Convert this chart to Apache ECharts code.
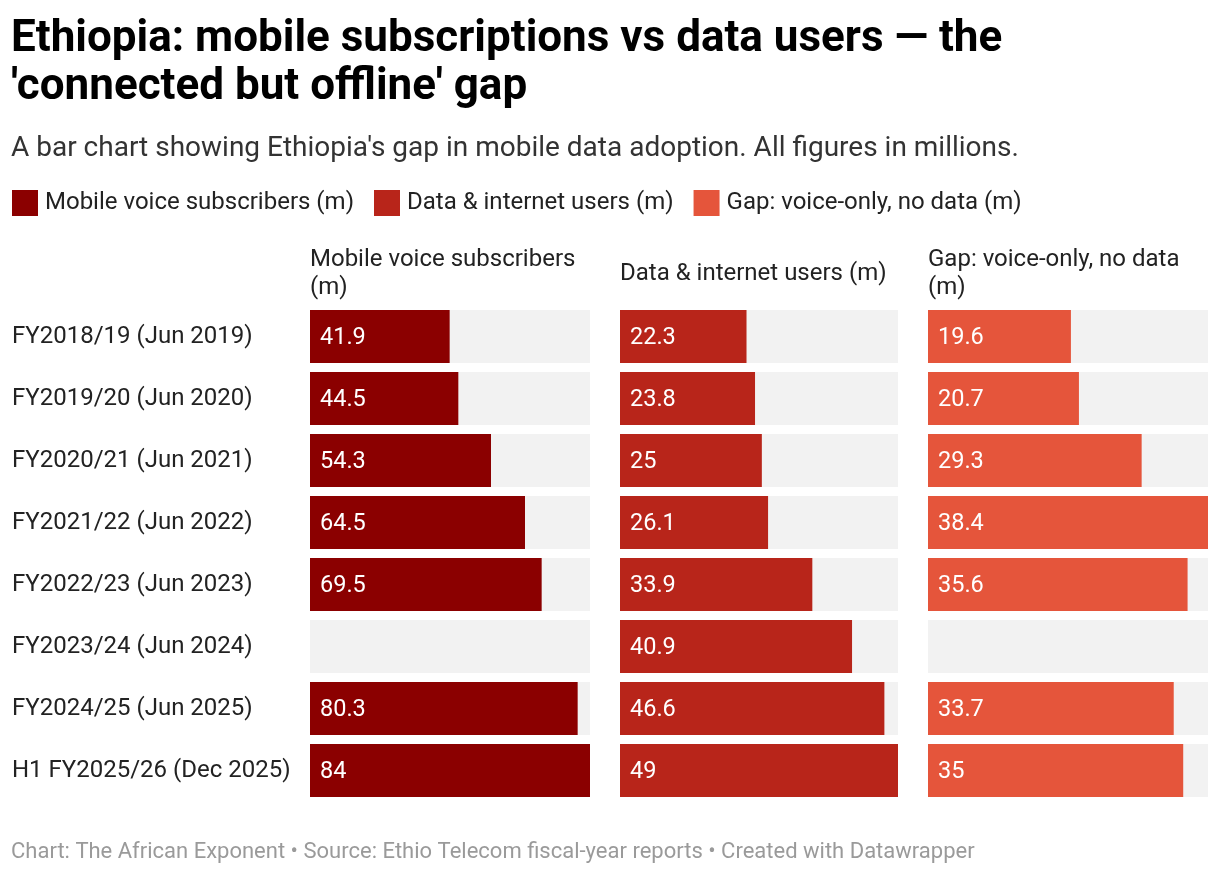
<!DOCTYPE html>
<html>
<head>
<meta charset="utf-8">
<script src="https://cdn.jsdelivr.net/npm/echarts@6/dist/echarts.min.js"></script>
<style>
html,body{margin:0;padding:0;background:#fff;}
#chart{width:1220px;height:874px;}
</style>
</head>
<body>
<div id="chart"></div>
<script>
const categories = [
  'FY2018/19 (Jun 2019)',
  'FY2019/20 (Jun 2020)',
  'FY2020/21 (Jun 2021)',
  'FY2021/22 (Jun 2022)',
  'FY2022/23 (Jun 2023)',
  'FY2023/24 (Jun 2024)',
  'FY2024/25 (Jun 2025)',
  'H1 FY2025/26 (Dec 2025)'
];
const voiceSubscribers = [41.9, 44.5, 54.3, 64.5, 69.5, null, 80.3, 84];
const dataUsers = [22.3, 23.8, 25, 26.1, 33.9, 40.9, 46.6, 49];
const gapVoiceOnly = [19.6, 20.7, 29.3, 38.4, 35.6, null, 33.7, 35];
const seriesNames = ['Mobile voice subscribers (m)', 'Data & internet users (m)', 'Gap: voice-only, no data (m)'];
const panelTitles = ['Mobile voice subscribers\n(m)', 'Data & internet users (m)', 'Gap: voice-only, no data\n(m)'];
const panelMax = [84, 49, 38.4];

const colors = ['#8b0000', '#b8251a', '#e5553b'];
const font = 'Roboto, "Noto Sans", sans-serif';
const grids = [
  {left: 310, width: 280},
  {left: 620, width: 278},
  {left: 928, width: 280}
];
const values = [voiceSubscribers, dataUsers, gapVoiceOnly];

const chart = echarts.init(document.getElementById('chart'), null, {renderer: 'canvas'});

const option = {
  backgroundColor: '#ffffff',
  animation: false,
  textStyle: {fontFamily: font},
  title: [
    {
      text: "Ethiopia: mobile subscriptions vs data users — the\n'connected but offline' gap",
      left: 11, top: 16, padding: 0,
      textStyle: {fontFamily: font, fontSize: 44, fontWeight: 'bold', color: '#000', lineHeight: 48}
    },
    {
      text: "A bar chart showing Ethiopia's gap in mobile data adoption. All figures in millions.",
      left: 11, top: 135, padding: 0,
      textStyle: {fontFamily: font, fontSize: 28, fontWeight: 'normal', color: '#333', lineHeight: 28}
    },
    {
      text: 'Chart: The African Exponent • Source: Ethio Telecom fiscal-year reports • Created with Datawrapper',
      left: 11, top: 841, padding: 0,
      textStyle: {fontFamily: font, fontSize: 22, fontWeight: 'normal', color: '#9a9a9a', lineHeight: 22}
    }
  ],
  graphic: panelTitles.map((t, i) => ({
    type: 'text',
    x: grids[i].left, y: 274,
    style: {
      text: t,
      font: '24px ' + font,
      fill: '#222',
      lineHeight: 28,
      verticalAlign: 'middle',
      align: 'left'
    }
  })),
  legend: {
    left: 12, top: 190, padding: 0,
    itemWidth: 26, itemHeight: 26, itemGap: 20,
    icon: 'rect',
    selectedMode: false,
    textStyle: {fontFamily: font, fontSize: 24, color: '#222', padding: [0, 0, 0, 2]},
    data: seriesNames
  },
  grid: grids.map(g => ({left: g.left, width: g.width, top: 305.5, height: 496, containLabel: false})),
  xAxis: grids.map((g, i) => ({
    type: 'value', gridIndex: i, min: 0, max: panelMax[i],
    show: false
  })),
  yAxis: grids.map((g, i) => ({
    type: 'category', gridIndex: i, data: categories, inverse: true,
    axisLine: {show: false}, axisTick: {show: false}, splitLine: {show: false},
    axisLabel: i === 0 ? {
      show: true, align: 'left', margin: 298,
      fontFamily: font, fontSize: 24, color: '#222',
      padding: [4, 0, 0, 0]
    } : {show: false}
  })),
  series: values.map((v, i) => ({
    name: seriesNames[i],
    type: 'bar',
    xAxisIndex: i, yAxisIndex: i,
    data: v,
    barCategoryGap: '14.5%',
    itemStyle: {color: colors[i]},
    showBackground: true,
    backgroundStyle: {color: '#f2f2f2'},
    label: {
      show: true, position: 'insideLeft', distance: 10, offset: [0, 2],
      fontFamily: font, fontSize: 23.5, color: '#fff'
    }
  }))
};
chart.setOption(option);
</script>
</body>
</html>
